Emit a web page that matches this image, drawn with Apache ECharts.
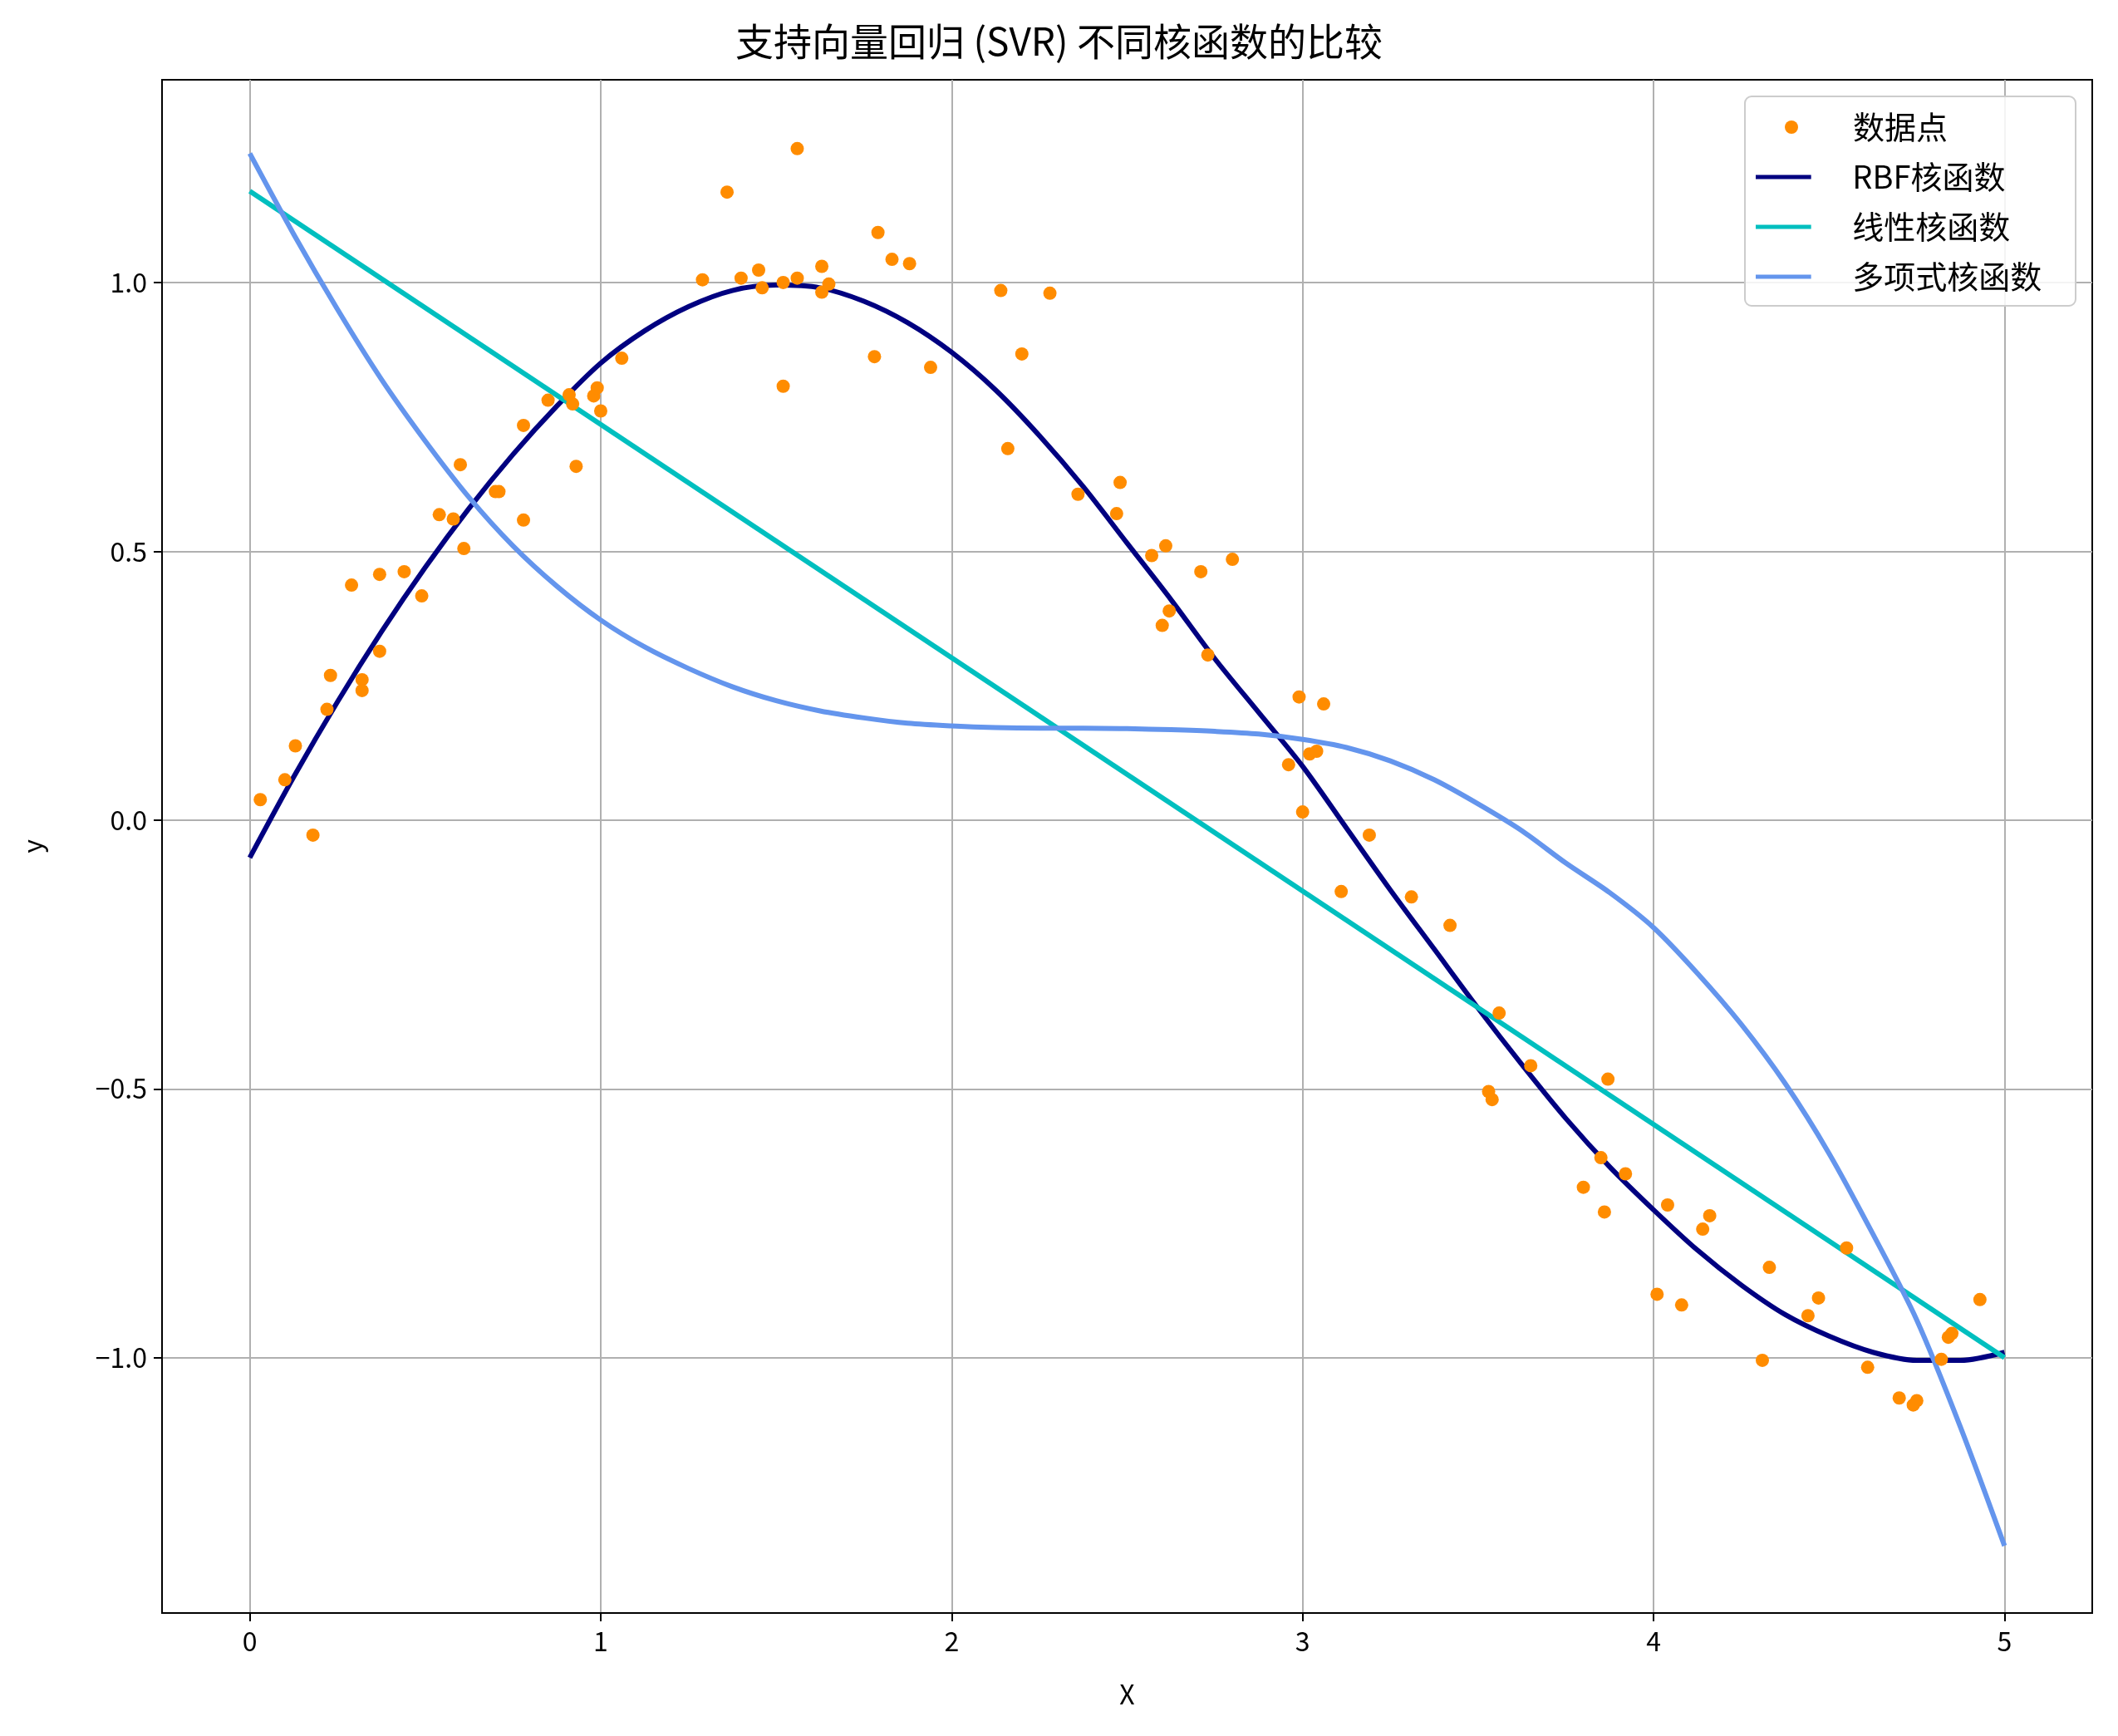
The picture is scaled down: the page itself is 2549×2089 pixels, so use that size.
<!DOCTYPE html>
<html><head><meta charset="utf-8">
<script src="https://cdn.jsdelivr.net/npm/echarts@6/dist/echarts.min.js"></script>
<style>html,body{margin:0;padding:0;background:#fff}#c{width:2549px;height:2089px}</style>
</head><body><div id="c"></div>
<script>
const pointsX=[0.03,0.10,0.13,0.18,0.22,0.23,0.29,0.32,0.32,0.37,0.37,0.44,0.49,0.54,0.58,0.60,0.61,0.70,0.71,0.78,0.78,0.85,0.91,0.92,0.93,0.98,0.99,1.00,1.06,1.29,1.36,1.40,1.45,1.46,1.52,1.52,1.56,1.56,1.63,1.63,1.65,1.78,1.79,1.83,1.88,1.94,2.14,2.16,2.20,2.28,2.36,2.47,2.48,2.57,2.60,2.61,2.62,2.71,2.73,2.80,2.96,2.99,3.00,3.02,3.04,3.06,3.11,3.19,3.31,3.42,3.53,3.54,3.56,3.65,3.80,3.85,3.86,3.87,3.92,4.01,4.04,4.08,4.14,4.16,4.31,4.33,4.44,4.47,4.55,4.61,4.70,4.74,4.75,4.82,4.84,4.85,4.93];
const pointsY=[0.038,0.075,0.138,-0.028,0.206,0.269,0.437,0.261,0.241,0.314,0.457,0.462,0.417,0.568,0.56,0.661,0.505,0.611,0.611,0.734,0.558,0.781,0.791,0.774,0.658,0.789,0.804,0.761,0.859,1.005,1.168,1.008,1.023,0.99,0.807,1.0,1.008,1.249,1.03,0.982,0.997,0.862,1.093,1.043,1.035,0.842,0.985,0.691,0.867,0.98,0.606,0.57,0.628,0.492,0.362,0.51,0.389,0.462,0.307,0.485,0.103,0.229,0.015,0.123,0.128,0.216,-0.133,-0.028,-0.143,-0.196,-0.505,-0.52,-0.359,-0.457,-0.683,-0.628,-0.729,-0.482,-0.658,-0.882,-0.716,-0.902,-0.761,-0.736,-1.005,-0.832,-0.922,-0.889,-0.796,-1.018,-1.075,-1.088,-1.08,-1.003,-0.962,-0.955,-0.892];
const rbfX=[0,0.125,0.25,0.375,0.5,0.625,0.75,0.875,1.0,1.125,1.25,1.375,1.5,1.625,1.75,1.875,2.0,2.125,2.25,2.375,2.5,2.625,2.75,2.875,3.0,3.125,3.25,3.375,3.5,3.625,3.75,3.875,4.0,4.125,4.25,4.375,4.5,4.625,4.75,4.875,5.0];
const rbfY=[-0.07,0.08,0.22,0.35,0.47,0.58,0.68,0.77,0.85,0.91,0.955,0.985,0.995,0.99,0.965,0.925,0.87,0.80,0.715,0.62,0.515,0.41,0.30,0.20,0.10,-0.015,-0.13,-0.24,-0.35,-0.455,-0.555,-0.645,-0.725,-0.80,-0.865,-0.92,-0.96,-0.99,-1.005,-1.005,-0.99];
const linX=[0,5];
const linY=[1.17,-1.0];
const polyX=[0,0.125,0.25,0.375,0.5,0.625,0.75,0.875,1.0,1.125,1.25,1.375,1.5,1.625,1.75,1.875,2.0,2.125,2.25,2.375,2.5,2.625,2.75,2.875,3.0,3.125,3.25,3.375,3.5,3.625,3.75,3.875,4.0,4.125,4.25,4.375,4.5,4.625,4.75,4.875,5.0];
const polyY=[1.24,1.09,0.95,0.82,0.705,0.60,0.51,0.435,0.372,0.322,0.282,0.248,0.222,0.203,0.19,0.18,0.175,0.172,0.171,0.171,0.17,0.168,0.165,0.16,0.15,0.135,0.11,0.075,0.03,-0.02,-0.08,-0.135,-0.20,-0.285,-0.38,-0.49,-0.62,-0.77,-0.93,-1.13,-1.35];
const xTicks=[0,1,2,3,4,5];
const yTicks=[-1.0,-0.5,0.0,0.5,1.0];
const zip=(a,b)=>a.map((v,i)=>[v,b[i]]);
const F='"Noto Sans CJK SC", sans-serif';
const fmt=v=>v.toFixed(1).replace('-','\u2212');
const lineIcon='path://M0,0L40,0L40,3L0,3Z';
const legText=p=>({fontFamily:F,fontSize:38,color:'#000',lineHeight:40,padding:[0,0,0,p]});
const chart=echarts.init(document.getElementById('c'));
chart.setOption({
 animation:false,
 title:{text:'支持向量回归 (SVR) 不同核函数的比较',left:'center',top:22,textStyle:{fontFamily:F,fontSize:46,fontWeight:'normal',color:'#000'}},
 grid:{left:195,right:31,top:96,bottom:148,show:true,borderColor:'#000',borderWidth:2},
 graphic:[{type:'rect',left:2099,top:115,shape:{width:398,height:252,r:8},style:{fill:'rgba(255,255,255,0.85)',stroke:'#ccc',lineWidth:2},z:10}],
 legend:[
  {orient:'vertical',left:2148,top:133,itemWidth:90,itemHeight:16,padding:0,z:20,
   textStyle:legText(24),data:[{name:'数据点',icon:'circle'}]},
  {orient:'vertical',left:2113,top:193,itemGap:20,itemWidth:90,itemHeight:5,padding:0,z:20,
   textStyle:legText(33),data:[{name:'RBF核函数',icon:lineIcon},{name:'线性核函数',icon:lineIcon},{name:'多项式核函数',icon:lineIcon}]}],
 xAxis:{type:'value',min:-0.25,max:5.25,name:'X',nameLocation:'middle',nameGap:82,
  nameTextStyle:{fontFamily:F,fontSize:32,color:'#000'},
  axisLine:{onZero:false,lineStyle:{color:'#000',width:2}},
  axisTick:{show:true,length:10,customValues:xTicks,lineStyle:{color:'#000',width:2}},
  axisLabel:{customValues:xTicks,fontFamily:F,fontSize:32,color:'#000',margin:18},
  splitLine:{show:true,lineStyle:{color:'#b0b0b0',width:2}}},
 yAxis:{type:'value',min:-1.475,max:1.377,name:'y',nameLocation:'middle',nameGap:140,
  nameTextStyle:{fontFamily:F,fontSize:32,color:'#000'},
  axisLine:{onZero:false,lineStyle:{color:'#000',width:2}},
  axisTick:{show:true,length:10,customValues:yTicks,lineStyle:{color:'#000',width:2}},
  axisLabel:{customValues:yTicks,fontFamily:F,fontSize:32,color:'#000',margin:18,formatter:fmt},
  splitLine:{show:true,lineStyle:{color:'#b0b0b0',width:2}}},
 series:[
  {name:'数据点',type:'scatter',data:zip(pointsX,pointsY),symbolSize:16,itemStyle:{color:'#ff8c00',opacity:1},z:5},
  {name:'RBF核函数',type:'line',data:zip(rbfX,rbfY),smooth:0.3,showSymbol:false,symbol:'none',lineStyle:{color:'#000080',width:6},itemStyle:{color:'#000080'}},
  {name:'线性核函数',type:'line',data:zip(linX,linY),showSymbol:false,symbol:'none',lineStyle:{color:'#00bfbf',width:6},itemStyle:{color:'#00bfbf'}},
  {name:'多项式核函数',type:'line',data:zip(polyX,polyY),smooth:0.3,showSymbol:false,symbol:'none',lineStyle:{color:'#6495ed',width:6},itemStyle:{color:'#6495ed'}}
 ]
});
</script></body></html>
